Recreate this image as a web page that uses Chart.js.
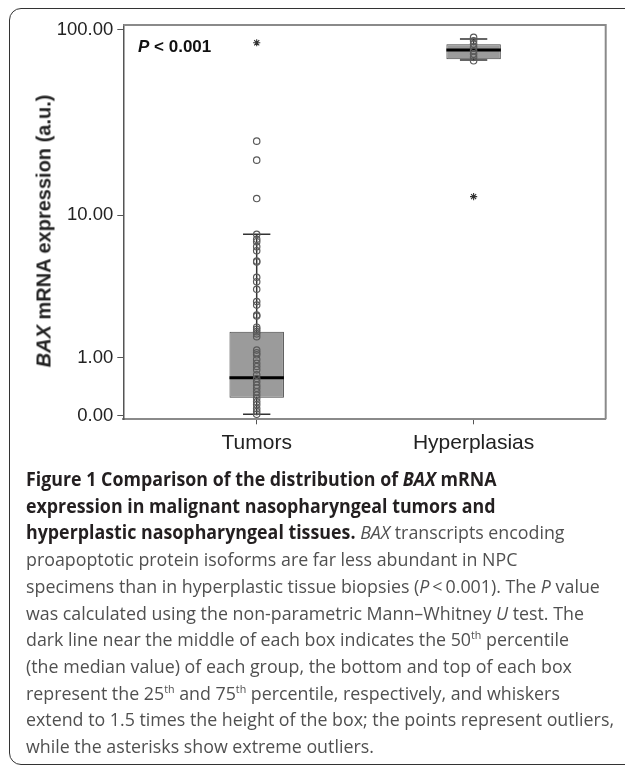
<!DOCTYPE html>
<html><head><meta charset="utf-8">
<script src="https://cdn.jsdelivr.net/npm/chart.js@4"></script>
<style>
html,body{margin:0;padding:0;background:#fff;overflow:hidden;width:625px;height:767px;position:relative;}
#frame{position:absolute;left:9px;top:8px;width:650px;height:757px;border:1.5px solid #333;border-radius:12px;box-sizing:border-box;}
#wrap{position:absolute;left:0;top:0;width:625px;height:470px;}
#ytitle{position:absolute;left:44px;top:231px;transform:translate(-50%,-50%) rotate(-90deg);white-space:nowrap;font:bold 20px "Liberation Sans",Arial,sans-serif;color:#222;}
#ptext{position:absolute;left:138px;top:47px;transform:translateY(-50%);font:bold 17px "Liberation Sans",Arial,sans-serif;color:#111;white-space:nowrap;}
#caption{position:absolute;left:26px;top:466px;font-family:"Open Sans",sans-serif;font-size:19px;line-height:26.7px;color:#505050;transform-origin:0 0;white-space:nowrap;}
#caption b{color:#231f20;}
#caption sup{font-size:0.6em;line-height:0;vertical-align:0.6em;}
</style></head>
<body>
<div id="frame"></div>
<div id="wrap"><canvas id="c" width="625" height="470"></canvas></div>
<div id="ytitle"><i>BAX</i> mRNA expression (a.u.)</div>
<div id="ptext"><i>P</i> &lt; 0.001</div>
<div id="caption">
<div id="l1"><b>Figure 1 Comparison of the distribution of <i>BAX</i> mRNA</b></div>
<div><b>expression in malignant nasopharyngeal tumors and</b></div>
<div><b>hyperplastic nasopharyngeal tissues.</b> <i>BAX</i> transcripts encoding</div>
<div>proapoptotic protein isoforms are far less abundant in NPC</div>
<div>specimens than in hyperplastic tissue biopsies (<i>P</i>&thinsp;&lt;&thinsp;0.001). The <i>P</i> value</div>
<div>was calculated using the non-parametric Mann–Whitney <i>U</i> test. The</div>
<div>dark line near the middle of each box indicates the 50<sup>th</sup> percentile</div>
<div>(the median value) of each group, the bottom and top of each box</div>
<div>represent the 25<sup>th</sup> and 75<sup>th</sup> percentile, respectively, and whiskers</div>
<div><span id="l10">extend to 1.5 times the height of the box; the points represent outliers,</span></div>
<div>while the asterisks show extreme outliers.</div>
</div>
<script>
// ---- data (raw values, a.u.) ----
const categories = ["Tumors", "Hyperplasias"];
const yTickValues = [0, 1, 10, 100];
const whiskerLow  = [0.017, 69.1];
const q1          = [0.24, 69.7];
const median      = [0.575, 78.1];
const q3          = [1.73, 83.6];
const whiskerHigh = [7.74, 89.1];
const tumorPoints = [7.74, 7.23, 7.00, 6.54, 6.18, 5.35, 5.28, 4.23, 3.96, 3.53, 2.91, 2.75, 2.33, 2.29,
  1.88, 1.81, 1.73, 1.66, 1.57, 1.19, 1.12, 1.07, 0.96, 0.87, 0.80, 0.73, 0.63, 0.56, 0.50, 0.44,
  0.39, 0.33, 0.28, 0.23, 0.18, 0.14, 0.09, 0.05, 0.017];
const hyperPoints = [90.9, 87.3, 83.9, 80.6, 77.4, 74.3, 71.4, 68.5];
const tumorOutliers = [12.4, 20.2, 25.6];
const hyperOutliers = [];
const tumorExtremes = [85.2];
const hyperExtremes = [12.7];

// ---- styling constants ----
const BOX_W = 0.251, CAP_HALF = 0.063;
const tr = v => Math.log10(v + 1);   // axis is log10(x+1)
const inv = t => Math.pow(10, t) - 1;

const whiskerData = [], capData = [], medianData = [], boxData = [];
categories.forEach((c, i) => {
  const x = i + 1;
  whiskerData.push({x, y: tr(whiskerLow[i])}, {x, y: tr(whiskerHigh[i])}, {x: x + 0.5, y: null});
  capData.push({x: x - CAP_HALF, y: tr(whiskerLow[i])}, {x: x + CAP_HALF, y: tr(whiskerLow[i])}, {x: x + 0.01, y: null},
               {x: x - CAP_HALF, y: tr(whiskerHigh[i])}, {x: x + CAP_HALF, y: tr(whiskerHigh[i])}, {x: x + 0.02, y: null});
  medianData.push({x: x - BOX_W / 2, y: tr(median[i])}, {x: x + BOX_W / 2, y: tr(median[i])}, {x: x + 0.5, y: null});
  boxData.push({x, y: [tr(q1[i]), tr(q3[i])]});
});
const circleData = [];
[tumorPoints.concat(tumorOutliers), hyperPoints.concat(hyperOutliers)].forEach((arr, i) =>
  arr.forEach(v => circleData.push({x: i + 1, y: tr(v)})));
const starData = [];
[tumorExtremes, hyperExtremes].forEach((arr, i) => arr.forEach(v => starData.push({x: i + 1, y: tr(v)})));

const framePlugin = {
  id: 'frame',
  afterDraw(chart) {
    const {ctx, chartArea: a} = chart;
    ctx.save();
    ctx.strokeStyle = '#8a8a8a'; ctx.lineWidth = 2;
    ctx.beginPath();
    ctx.moveTo(a.left, a.top); ctx.lineTo(a.right, a.top); ctx.lineTo(a.right, a.bottom);
    ctx.stroke();
    ctx.restore();
  }
};

const tickFont = {family: '"Liberation Sans", Arial, sans-serif', size: 18.5};
new Chart(document.getElementById('c'), {
  data: {
    datasets: [
      {type: 'scatter', data: starData, order: 0, pointStyle: 'star', pointRadius: 3.6, borderColor: '#333', borderWidth: 1.1, showLine: false},
      {type: 'scatter', data: circleData, order: 1, pointStyle: 'circle', pointRadius: 3.2, backgroundColor: 'rgba(0,0,0,0)', borderColor: '#5a5a5a', borderWidth: 1.2, showLine: false},
      {type: 'line', data: medianData, order: 2, borderColor: '#000', borderWidth: 3, pointRadius: 0, spanGaps: false, borderCapStyle: 'butt'},
      {type: 'line', data: capData, order: 3, borderColor: '#333', borderWidth: 1.5, pointRadius: 0, spanGaps: false},
      {type: 'bar', data: boxData, order: 4, backgroundColor: '#9b9b9b', borderColor: '#444', borderWidth: 1, borderSkipped: false, categoryPercentage: 1, barPercentage: BOX_W},
      {type: 'line', data: whiskerData, order: 5, borderColor: '#333', borderWidth: 1.5, pointRadius: 0, spanGaps: false}
    ]
  },
  options: {
    responsive: false, animation: false,
    layout: {padding: {top: 25, right: 19.3, left: 0, bottom: 0}},
    plugins: {legend: {display: false}, tooltip: {enabled: false}},
    scales: {
      x: {
        type: 'linear', min: 0.385, max: 2.609, offset: false,
        afterBuildTicks: s => { s.ticks = categories.map((c, i) => ({value: i + 1})); },
        afterFit: s => { s.height = 470 - 419.3; },
        ticks: {autoSkip: false, maxRotation: 0, padding: 6, color: '#222', font: {family: '"Liberation Sans", Arial, sans-serif', size: 21},
                callback: v => categories[v - 1]},
        grid: {drawOnChartArea: false, offset: false, tickLength: 5, color: '#555'},
        border: {color: '#8a8a8a', width: 2}
      },
      y: {
        type: 'linear', min: -0.0187, max: 2.0277,
        afterBuildTicks: s => { s.ticks = yTickValues.map(v => ({value: tr(v)})); },
        afterFit: s => { s.width = 123.3; },
        ticks: {autoSkip: false, padding: 4, color: '#222', font: tickFont, callback: v => inv(v).toFixed(2)},
        grid: {drawOnChartArea: false, tickLength: 6, color: '#555'},
        border: {color: '#555', width: 1.5}
      }
    }
  },
  plugins: [framePlugin]
});

// fit caption width to the reference's line width
const cap = document.getElementById('caption');
const w = document.getElementById('l10').getBoundingClientRect().width;
cap.style.transform = 'scaleX(' + (588 / w) + ')';
</script>
</body></html>
